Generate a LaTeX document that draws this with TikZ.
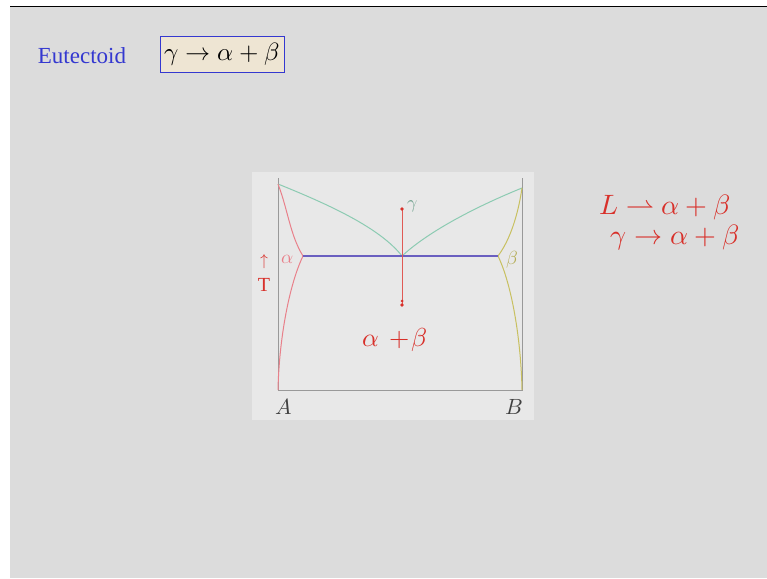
\documentclass[tikz,border=0pt]{standalone}
\usepackage{fontspec}
\setmainfont{Liberation Serif}
\usepackage{unicode-math}
\setmathfont{Latin Modern Math}
\definecolor{bg}{HTML}{DCDCDC}
\definecolor{panel}{HTML}{E8E8E8}
\definecolor{eqfill}{HTML}{EEE5D3}
\definecolor{liq}{HTML}{8CCBB2}
\definecolor{solA}{HTML}{E8808A}
\definecolor{solB}{HTML}{C8C060}
\definecolor{eut}{HTML}{6A5FC0}
\definecolor{hand}{HTML}{D8302A}
\definecolor{ttl}{HTML}{3438D0}
\newcommand{\fs}[1]{\fontsize{#1}{#1}\selectfont}
\tikzset{handtext/.style={text=hand, font=\fs{28}},
 axisline/.style={draw=gray!80, line width=0.8pt}}
\begin{document}
\begin{tikzpicture}[x=1pt,y=-1pt]
\useasboundingbox (0,0) rectangle (767,578);
\fill[white] (0,0) rectangle (767,578);
\fill[bg] (10,7) rectangle (767,578);
\draw[black, line width=1.5pt] (10,6.5) -- (767,6.5);
% title
\node[text=ttl, font=\fs{23}] (title) at (82,56) {Eutectoid};
\node[draw=ttl, fill=eqfill, line width=0.8pt, minimum width=124, minimum height=36, inner sep=2pt, font=\fs{25}] (eq) at (222,54.5) {$\gamma\rightarrow\alpha+\beta$};
% panel
\fill[panel] (252,172) rectangle (534,420);
\coordinate (TL) at (278,178);
\coordinate (BL) at (278,390);
\coordinate (BR) at (522,390);
\coordinate (TR) at (522,178);
\draw[axisline] (TL) -- (BL) -- (BR) -- (TR);
\coordinate (mA) at (278,184);
\coordinate (mB) at (522,188);
\coordinate (E) at (402,256);
\coordinate (aE) at (303,256);
\coordinate (bE) at (498,256);
\draw[liq, line width=1pt] (mA) .. controls (330,205) and (380,228) .. (E);
\draw[liq, line width=1pt] (E) .. controls (430,230) and (480,205) .. (mB);
\draw[solA, line width=1pt] (mA) .. controls (288,210) and (290,235) .. (aE);
\draw[solA, line width=1pt] (aE) .. controls (289,285) and (279,340) .. (BL);
\draw[solB, line width=1pt] (mB) .. controls (518,215) and (510,240) .. (bE);
\draw[solB, line width=1pt] (bE) .. controls (512,285) and (521,340) .. (BR);
\draw[eut, line width=2pt] (aE) -- (bE);
\coordinate (vt) at (402,209);
\coordinate (vb) at (402,305);
\draw[hand!80, line width=0.8pt] (vt) -- (vb);
\fill[hand] (vt) circle (1.8);
\fill[hand] (vb) circle (1.8);
\fill[hand] (402,301) circle (1.5);
\node[text=liq!80!black, font=\fs{18}] (g) at (413,206) {$\gamma$};
\node[text=solA, font=\fs{19}] (a) at (288,259) {$\alpha$};
\node[text=solB!90!black, font=\fs{19}] (b) at (512,260) {$\beta$};
\node[text=hand, font=\fs{16}, inner sep=0] (arr) at (264,262) {$\uparrow$};
\node[text=hand, font=\fs{20}] (T) at (264,285) {T};
\node[font=\fs{22}, text=black!75] (A) at (284,407) {$A$};
\node[font=\fs{22}, text=black!75] (B) at (514,407) {$B$};
\node[handtext, font=\fs{26}] (ab) at (395,340) {$\alpha\,+\!\beta$};
\node[handtext] (r1) at (665,207) {$L\rightharpoonup\alpha+\beta$};
\node[handtext] (r2) at (675,238) {$\gamma\rightarrow\alpha+\beta$};
\end{tikzpicture}
\end{document}
